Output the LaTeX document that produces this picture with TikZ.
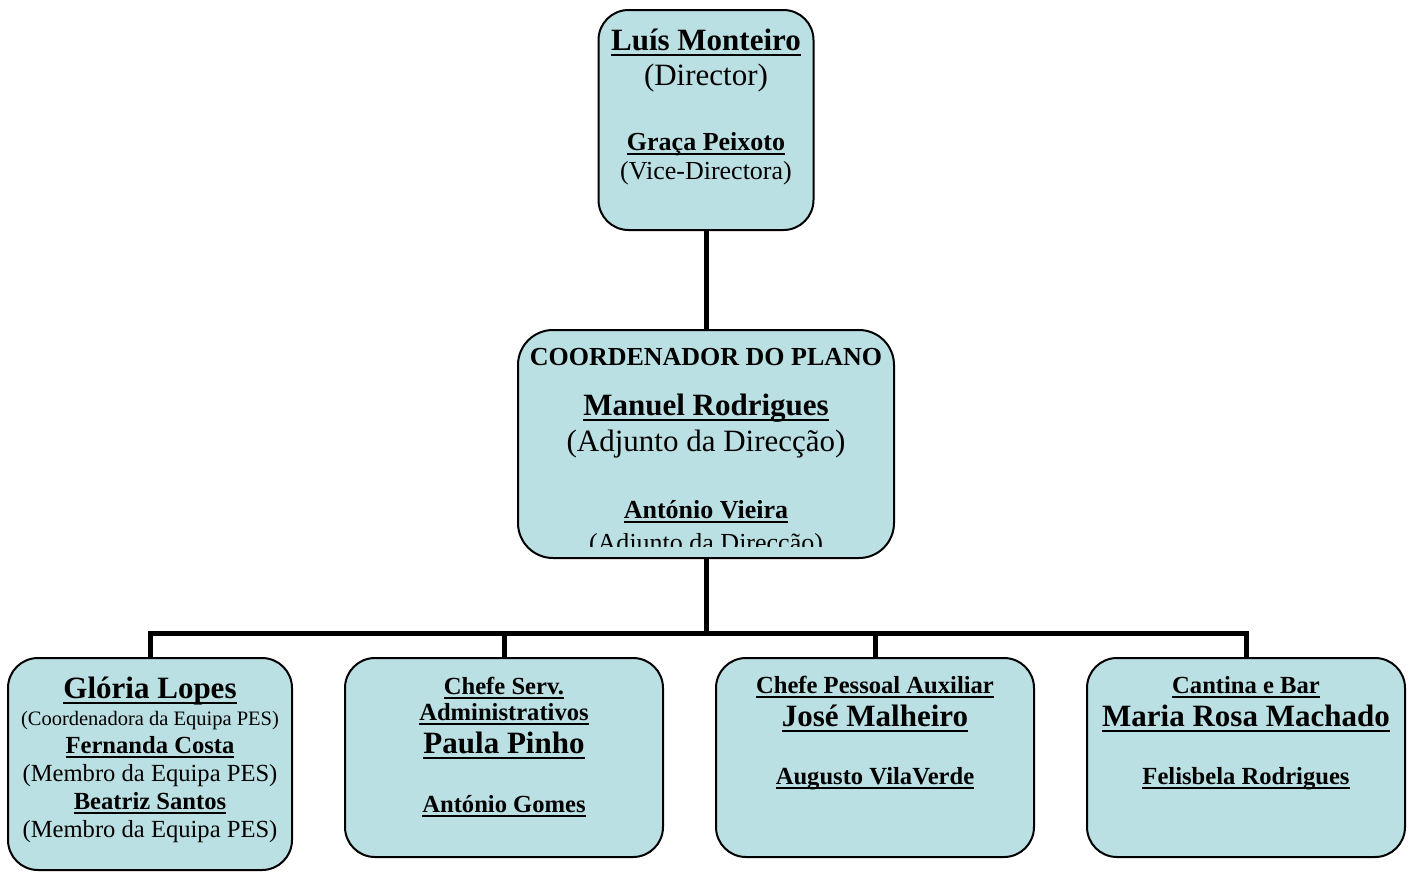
\documentclass[tikz,border=0pt]{standalone}
\usepackage{fontspec}
\setmainfont{Liberation Serif}
\definecolor{boxfill}{RGB}{187,224,227}
\newcommand\ulx[1]{\setbox0\hbox{#1}\rlap{\rule[-0.2em]{\wd0}{0.085em}}\box0}
\tikzset{
  box/.style={draw=black, line width=2pt, fill=boxfill, rounded corners=30pt, inner sep=0pt},
  conn/.style={line width=5pt, draw=black},
  txt/.style={anchor=base, inner sep=0pt},
  fL/.style={font=\fontsize{31}{36}\selectfont},
  fM/.style={font=\fontsize{26}{30}\selectfont},
  fN/.style={font=\fontsize{24.6}{28}\selectfont},
  fS/.style={font=\fontsize{20.5}{24}\selectfont}
}
\begin{document}
\begin{tikzpicture}[x=1pt,y=-1pt]
\useasboundingbox (0,0) rectangle (1414,871);
% boxes
\node[box, minimum width=215pt, minimum height=220pt] (dir) at (706,120) {};
\node[box, minimum width=376pt, minimum height=228pt, rounded corners=35pt] (coord) at (706,444) {};
\node[box, minimum width=284pt, minimum height=212pt] (b1) at (150,764) {};
\node[box, minimum width=318pt, minimum height=199pt] (b2) at (504,757.5) {};
\node[box, minimum width=318pt, minimum height=199pt] (b3) at (875,757.5) {};
\node[box, minimum width=318pt, minimum height=199pt] (b4) at (1246,757.5) {};
\coordinate (bus) at (706,633);
% connectors
\draw[conn] (dir.south) -- (coord.north);
\draw[conn] (coord.south) -- (bus);
\draw[conn] (b1.north) |- (bus) -| (b4.north);
\draw[conn] (b2.north) -- (b2.north |- bus);
\draw[conn] (b3.north) -- (b3.north |- bus);
% top box text
\node[txt,fL] (t1) at (706,50) {\bfseries\ulx{Luís Monteiro}};
\node[txt,fL] (t2) at (706,85) {(Director)};
\node[txt,fM] (t3) at (706,150) {\bfseries\ulx{Graça Peixoto}};
\node[txt,fM] (t4) at (706,179) {(Vice-Directora)};
% middle box text
\node[txt,fM] (m1) at (706,365) {\bfseries COORDENADOR DO PLANO};
\node[txt,fL] (m2) at (706,415) {\bfseries\ulx{Manuel Rodrigues}};
\node[txt,fL] (m3) at (706,451) {(Adjunto da Direcção)};
\node[txt,fM] (m4) at (706,518) {\bfseries\ulx{António Vieira}};
\begin{scope}
\clip (522,520) rectangle (890,546.5);
\node[txt,fM] (m5) at (706,551) {(Adjunto da Direcção)};
\end{scope}
% box 1
\node[txt,fL] (a1) at (150,698) {\bfseries\ulx{Glória Lopes}};
\node[txt,fS] (a2) at (150,725) {(Coordenadora da Equipa PES)};
\node[txt,fN] (a3) at (150,753) {\bfseries\ulx{Fernanda Costa}};
\node[txt,fN] (a4) at (150,781) {(Membro da Equipa PES)};
\node[txt,fN] (a5) at (150,809) {\bfseries\ulx{Beatriz Santos}};
\node[txt,fN] (a6) at (150,837) {(Membro da Equipa PES)};
% box 2
\node[txt,fN] (c1) at (504,694) {\bfseries\ulx{Chefe Serv.}};
\node[txt,fN] (c2) at (504,720) {\bfseries\ulx{Administrativos}};
\node[txt,fL] (c3) at (504,753) {\bfseries\ulx{Paula Pinho}};
\node[txt,fN] (c4) at (504,812) {\bfseries\ulx{António Gomes}};
% box 3
\node[txt,fN] (d1) at (875,693) {\bfseries\ulx{Chefe Pessoal Auxiliar}};
\node[txt,fL] (d2) at (875,726) {\bfseries\ulx{José Malheiro}};
\node[txt,fN] (d3) at (875,784) {\bfseries\ulx{Augusto VilaVerde}};
% box 4
\node[txt,fN] (e1) at (1246,693) {\bfseries\ulx{Cantina e Bar}};
\node[txt,fL] (e2) at (1246,726) {\bfseries\ulx{Maria Rosa Machado}};
\node[txt,fN] (e3) at (1246,784) {\bfseries\ulx{Felisbela Rodrigues}};
\end{tikzpicture}
\end{document}
